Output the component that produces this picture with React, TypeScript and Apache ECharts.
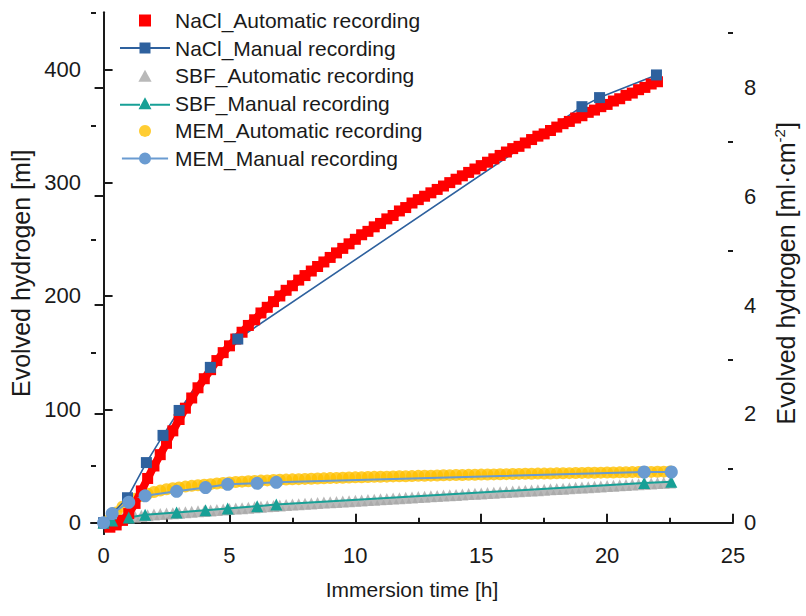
import React, { useEffect, useRef } from "react";
import * as echarts from "echarts";

// Sampling times of the automatic (continuous) recordings [h]
const AUTO_TIME_H = [
  0.25, 0.5, 0.75, 1, 1.25, 1.5, 1.75, 2, 2.25, 2.5, 2.75, 3,
  3.25, 3.5, 3.75, 4, 4.25, 4.5, 4.75, 5, 5.25, 5.5, 5.75, 6,
  6.25, 6.5, 6.75, 7, 7.25, 7.5, 7.75, 8, 8.25, 8.5, 8.75, 9,
  9.25, 9.5, 9.75, 10, 10.25, 10.5, 10.75, 11, 11.25, 11.5, 11.75, 12,
  12.25, 12.5, 12.75, 13, 13.25, 13.5, 13.75, 14, 14.25, 14.5, 14.75, 15,
  15.25, 15.5, 15.75, 16, 16.25, 16.5, 16.75, 17, 17.25, 17.5, 17.75, 18,
  18.25, 18.5, 18.75, 19, 19.25, 19.5, 19.75, 20, 20.25, 20.5, 20.75, 21,
  21.25, 21.5, 21.75, 22, 22.25, 22.5,
];

// Evolved hydrogen, automatic recording [ml]
const NACL_AUTO_ML = [
  -4, -2, 2, 8, 17, 28, 39, 50, 60, 70, 81, 91,
  101, 110, 119, 127, 135, 143, 150, 156, 162, 168, 174, 179,
  185, 190, 195, 200, 205, 209, 214, 218, 222, 226, 230, 234,
  238, 242, 246, 250, 254, 257, 261, 264, 268, 271, 275, 278,
  282, 285, 288, 291, 294, 297, 300, 303, 306, 309, 312, 315,
  318, 321, 324, 327, 330, 332, 335, 338, 341, 343, 346, 349,
  352, 354, 357, 359, 362, 364, 367, 369, 372, 374, 377, 379,
  382, 384, 387, 389,
];
const SBF_AUTO_ML = [
  0.5, 2, 3.5, 4.5, 5.3, 6, 6.6, 7.1, 7.6, 8, 8.4, 8.8,
  9.2, 9.6, 10, 10.4, 10.8, 11.2, 11.6, 12, 12.4, 12.8, 13.2, 13.6,
  14, 14.4, 14.8, 15.2, 15.6, 16, 16.3, 16.7, 17, 17.4, 17.7, 18,
  18.3, 18.7, 19, 19.3, 19.6, 20, 20.3, 20.6, 20.9, 21.3, 21.6, 21.9,
  22.2, 22.6, 22.9, 23.2, 23.5, 23.9, 24.2, 24.5, 24.8, 25.2, 25.5, 25.8,
  26.1, 26.5, 26.8, 27.1, 27.4, 27.8, 28.1, 28.4, 28.7, 29.1, 29.4, 29.7,
  30, 30.4, 30.7, 31, 31.3, 31.7, 32, 32.3, 32.6, 33, 33.3, 33.6,
  33.9, 34.3, 34.6, 34.9, 35.2, 35.5,
];
const MEM_AUTO_ML = [
  3, 9, 14, 18, 21, 23.5, 25.5, 27, 28.3, 29.5, 30.3, 31,
  31.8, 32.5, 33, 33.5, 34, 34.5, 35, 35.5, 35.9, 36.2, 36.5, 36.8,
  37.1, 37.3, 37.6, 37.8, 38, 38.2, 38.4, 38.6, 38.8, 39, 39.1, 39.3,
  39.5, 39.6, 39.8, 40, 40.1, 40.3, 40.4, 40.5, 40.6, 40.8, 40.9, 41,
  41.1, 41.3, 41.4, 41.5, 41.6, 41.8, 41.9, 42, 42.1, 42.2, 42.3, 42.4,
  42.5, 42.6, 42.7, 42.8, 42.9, 43, 43.1, 43.2, 43.3, 43.3, 43.4, 43.5,
  43.6, 43.7, 43.8, 43.9, 44, 44, 44.1, 44.2, 44.3, 44.4, 44.5, 44.6,
  44.7, 44.7, 44.8, 44.9, 45, 45.1,
];

// Manual readings
const NACL_MAN_TIME_H = [0, 0.95, 1.7, 2.36, 3.0, 4.24, 5.33, 19.0, 19.7, 21.96];
const NACL_MAN_ML = [0, 22, 53, 77, 99, 137, 162, 367, 375, 395];
const SBF_MEM_MAN_TIME_H = [0, 0.34, 1.0, 1.65, 2.9, 4.05, 4.93, 6.1, 6.86, 21.47, 22.55];
const SBF_MAN_ML = [0, 2, 4.5, 7, 9, 11, 12.5, 14.5, 16, 35, 36];
const MEM_MAN_ML = [0, 8, 18, 23.7, 27.7, 31, 33.8, 34.7, 35.6, 44.7, 44.7];

// Axis ranges and ticks
const TIME_RANGE = [-0.5, 25];
const TIME_MAJOR = [0, 5, 10, 15, 20, 25];
const TIME_MINOR = [2.5, 7.5, 12.5, 17.5, 22.5];
const VOL_RANGE = [-10, 450];
const VOL_MAJOR = [0, 100, 200, 300, 400];
const VOL_MINOR = [50, 150, 250, 350, 450];
const SAMPLE_AREA_CM2 = 48;
const AREA_MAJOR = [0, 2, 4, 6, 8];
const AREA_MINOR = [1, 3, 5, 7, 9];

const NAMES = [
  "NaCl_Automatic recording",
  "NaCl_Manual recording",
  "SBF_Automatic recording",
  "SBF_Manual recording",
  "MEM_Automatic recording",
  "MEM_Manual recording",
];

const COLORS = {
  naclAuto: "#FF0000",
  naclMan: "#2E619E",
  sbfAuto: "#A8A8A8",
  sbfMan: "#17A096",
  memAuto: "#FFC000",
  memMan: "#6A9BD1",
};

// Legend glyphs: bare markers for the automatic series, line + marker for the manual ones
const ICON_SQUARE = "path://M0,0H10V10H0Z";
const ICON_TRIANGLE = "path://M5,0L10.5,10H-0.5Z";
const ICON_LINE_SQUARE = "path://M0,5H20V7H0Z M30,5H50V7H30Z M19.5,0.5H30.5V11.5H19.5Z";
const ICON_LINE_TRIANGLE = "path://M0,6.5H20V8.5H0Z M30,6.5H50V8.5H30Z M25,0L31.5,12H18.5Z";
const ICON_LINE_CIRCLE = "path://M0,5H20V7H0Z M30,5H50V7H30Z M18.5,6A6.5,6.5 0 1 1 31.5,6A6.5,6.5 0 1 1 18.5,6Z";

const FONT = "'Liberation Sans', Arial, Helvetica, sans-serif";
const INK = "#1a1a1a";

const pairs = (t: number[], v: number[]) => v.map((y, i) => [t[i], y]);

function buildOption() {
  const axisLine = { show: true, lineStyle: { color: INK, width: 2 } };
  const label = { fontSize: 22, color: INK, fontFamily: FONT };
  const major = (vals: number[]) => ({
    show: true,
    inside: true,
    length: 9,
    customValues: vals,
    lineStyle: { color: INK, width: 2 },
  });
  const minor = (vals: number[]) => ({
    show: true,
    inside: true,
    length: 5,
    customValues: vals,
    lineStyle: { color: INK, width: 2 },
  });
  const areaMin = VOL_RANGE[0] / SAMPLE_AREA_CM2;
  const areaMax = VOL_RANGE[1] / SAMPLE_AREA_CM2;

  return {
    animation: false,
    backgroundColor: "#ffffff",
    textStyle: { fontFamily: FONT },
    grid: { left: 91, right: 67, top: 12.6, bottom: 82, containLabel: false },
    legend: {
      orient: "vertical",
      left: 120,
      top: 10,
      padding: 0,
      itemWidth: 50,
      itemHeight: 12,
      itemGap: 6.6,
      symbolKeepAspect: true,
      textStyle: { fontSize: 21, color: INK, fontFamily: FONT, lineHeight: 20 },
      data: [
        { name: NAMES[0], icon: ICON_SQUARE },
        { name: NAMES[1], icon: ICON_LINE_SQUARE },
        { name: NAMES[2], icon: ICON_TRIANGLE },
        { name: NAMES[3], icon: ICON_LINE_TRIANGLE },
        { name: NAMES[4], icon: "circle" },
        { name: NAMES[5], icon: ICON_LINE_CIRCLE },
      ],
    },
    xAxis: [
      {
        type: "value",
        position: "bottom",
        min: TIME_RANGE[0],
        max: TIME_RANGE[1],
        axisLine,
        axisTick: major(TIME_MAJOR),
        axisLabel: { ...label, margin: 10, customValues: TIME_MAJOR },
        splitLine: { show: false },
        name: "Immersion time [h]",
        nameLocation: "middle",
        nameGap: 45,
        nameTextStyle: { fontSize: 21, color: INK, fontFamily: FONT },
      },
      {
        type: "value",
        position: "bottom",
        min: TIME_RANGE[0],
        max: TIME_RANGE[1],
        axisLine: { show: false },
        axisTick: minor(TIME_MINOR),
        axisLabel: { show: false },
        splitLine: { show: false },
      },
    ],
    yAxis: [
      {
        type: "value",
        position: "left",
        min: VOL_RANGE[0],
        max: VOL_RANGE[1],
        axisLine,
        axisTick: major(VOL_MAJOR),
        axisLabel: { ...label, margin: 10, customValues: VOL_MAJOR },
        splitLine: { show: false },
        name: "Evolved hydrogen [ml]",
        nameLocation: "middle",
        nameGap: 47,
        nameTextStyle: { fontSize: 25, color: INK, fontFamily: FONT },
      },
      {
        type: "value",
        position: "right",
        min: areaMin,
        max: areaMax,
        axisLine,
        axisTick: major(AREA_MAJOR),
        axisLabel: { ...label, margin: 11, customValues: AREA_MAJOR },
        splitLine: { show: false },
        name: "Evolved hydrogen [ml·cm{sup|-2}]",
        nameLocation: "middle",
        nameGap: 39,
        nameTextStyle: {
          fontSize: 25,
          color: INK,
          fontFamily: FONT,
          rich: {
            sup: { fontSize: 15, color: INK, fontFamily: FONT, padding: [0, 0, 12, 0] },
          },
        },
      },
      {
        type: "value",
        position: "left",
        min: VOL_RANGE[0],
        max: VOL_RANGE[1],
        axisLine: { show: false },
        axisTick: minor(VOL_MINOR),
        axisLabel: { show: false },
        splitLine: { show: false },
      },
      {
        type: "value",
        position: "right",
        min: areaMin,
        max: areaMax,
        axisLine: { show: false },
        axisTick: minor(AREA_MINOR),
        axisLabel: { show: false },
        splitLine: { show: false },
      },
    ],
    series: [
      {
        name: NAMES[4],
        type: "scatter",
        symbol: "circle",
        symbolSize: 12,
        itemStyle: { color: COLORS.memAuto },
        data: pairs(AUTO_TIME_H, MEM_AUTO_ML),
      },
      {
        name: NAMES[2],
        type: "scatter",
        symbol: "triangle",
        symbolSize: 12,
        itemStyle: { color: COLORS.sbfAuto },
        data: pairs(AUTO_TIME_H, SBF_AUTO_ML),
      },
      {
        // dense logger trace: squares joined by a band of the same colour
        name: NAMES[0],
        type: "line",
        symbol: "rect",
        symbolSize: 11,
        showSymbol: true,
        lineStyle: { color: COLORS.naclAuto, width: 8 },
        itemStyle: { color: COLORS.naclAuto },
        data: pairs(AUTO_TIME_H, NACL_AUTO_ML),
      },
      {
        name: NAMES[1],
        type: "line",
        symbol: "rect",
        symbolSize: 11,
        showSymbol: true,
        lineStyle: { color: COLORS.naclMan, width: 1.6 },
        itemStyle: { color: COLORS.naclMan },
        data: pairs(NACL_MAN_TIME_H, NACL_MAN_ML),
      },
      {
        name: NAMES[3],
        type: "line",
        symbol: "triangle",
        symbolSize: 12,
        showSymbol: true,
        lineStyle: { color: COLORS.sbfMan, width: 2 },
        itemStyle: { color: COLORS.sbfMan },
        data: pairs(SBF_MEM_MAN_TIME_H, SBF_MAN_ML),
      },
      {
        name: NAMES[5],
        type: "line",
        symbol: "circle",
        symbolSize: 13,
        showSymbol: true,
        lineStyle: { color: COLORS.memMan, width: 2 },
        itemStyle: { color: COLORS.memMan },
        data: pairs(SBF_MEM_MAN_TIME_H, MEM_MAN_ML),
      },
    ],
  };
}

export default function App() {
  const ref = useRef<HTMLDivElement>(null);
  useEffect(() => {
    if (!ref.current) return;
    const chart = echarts.init(ref.current, null, { renderer: "svg" });
    chart.setOption(buildOption() as any);
    return () => chart.dispose();
  }, []);
  return (
    <div
      ref={ref}
      style={{ position: "fixed", left: 0, top: 0, width: 806, height: 616, background: "#fff" }}
    />
  );
}
